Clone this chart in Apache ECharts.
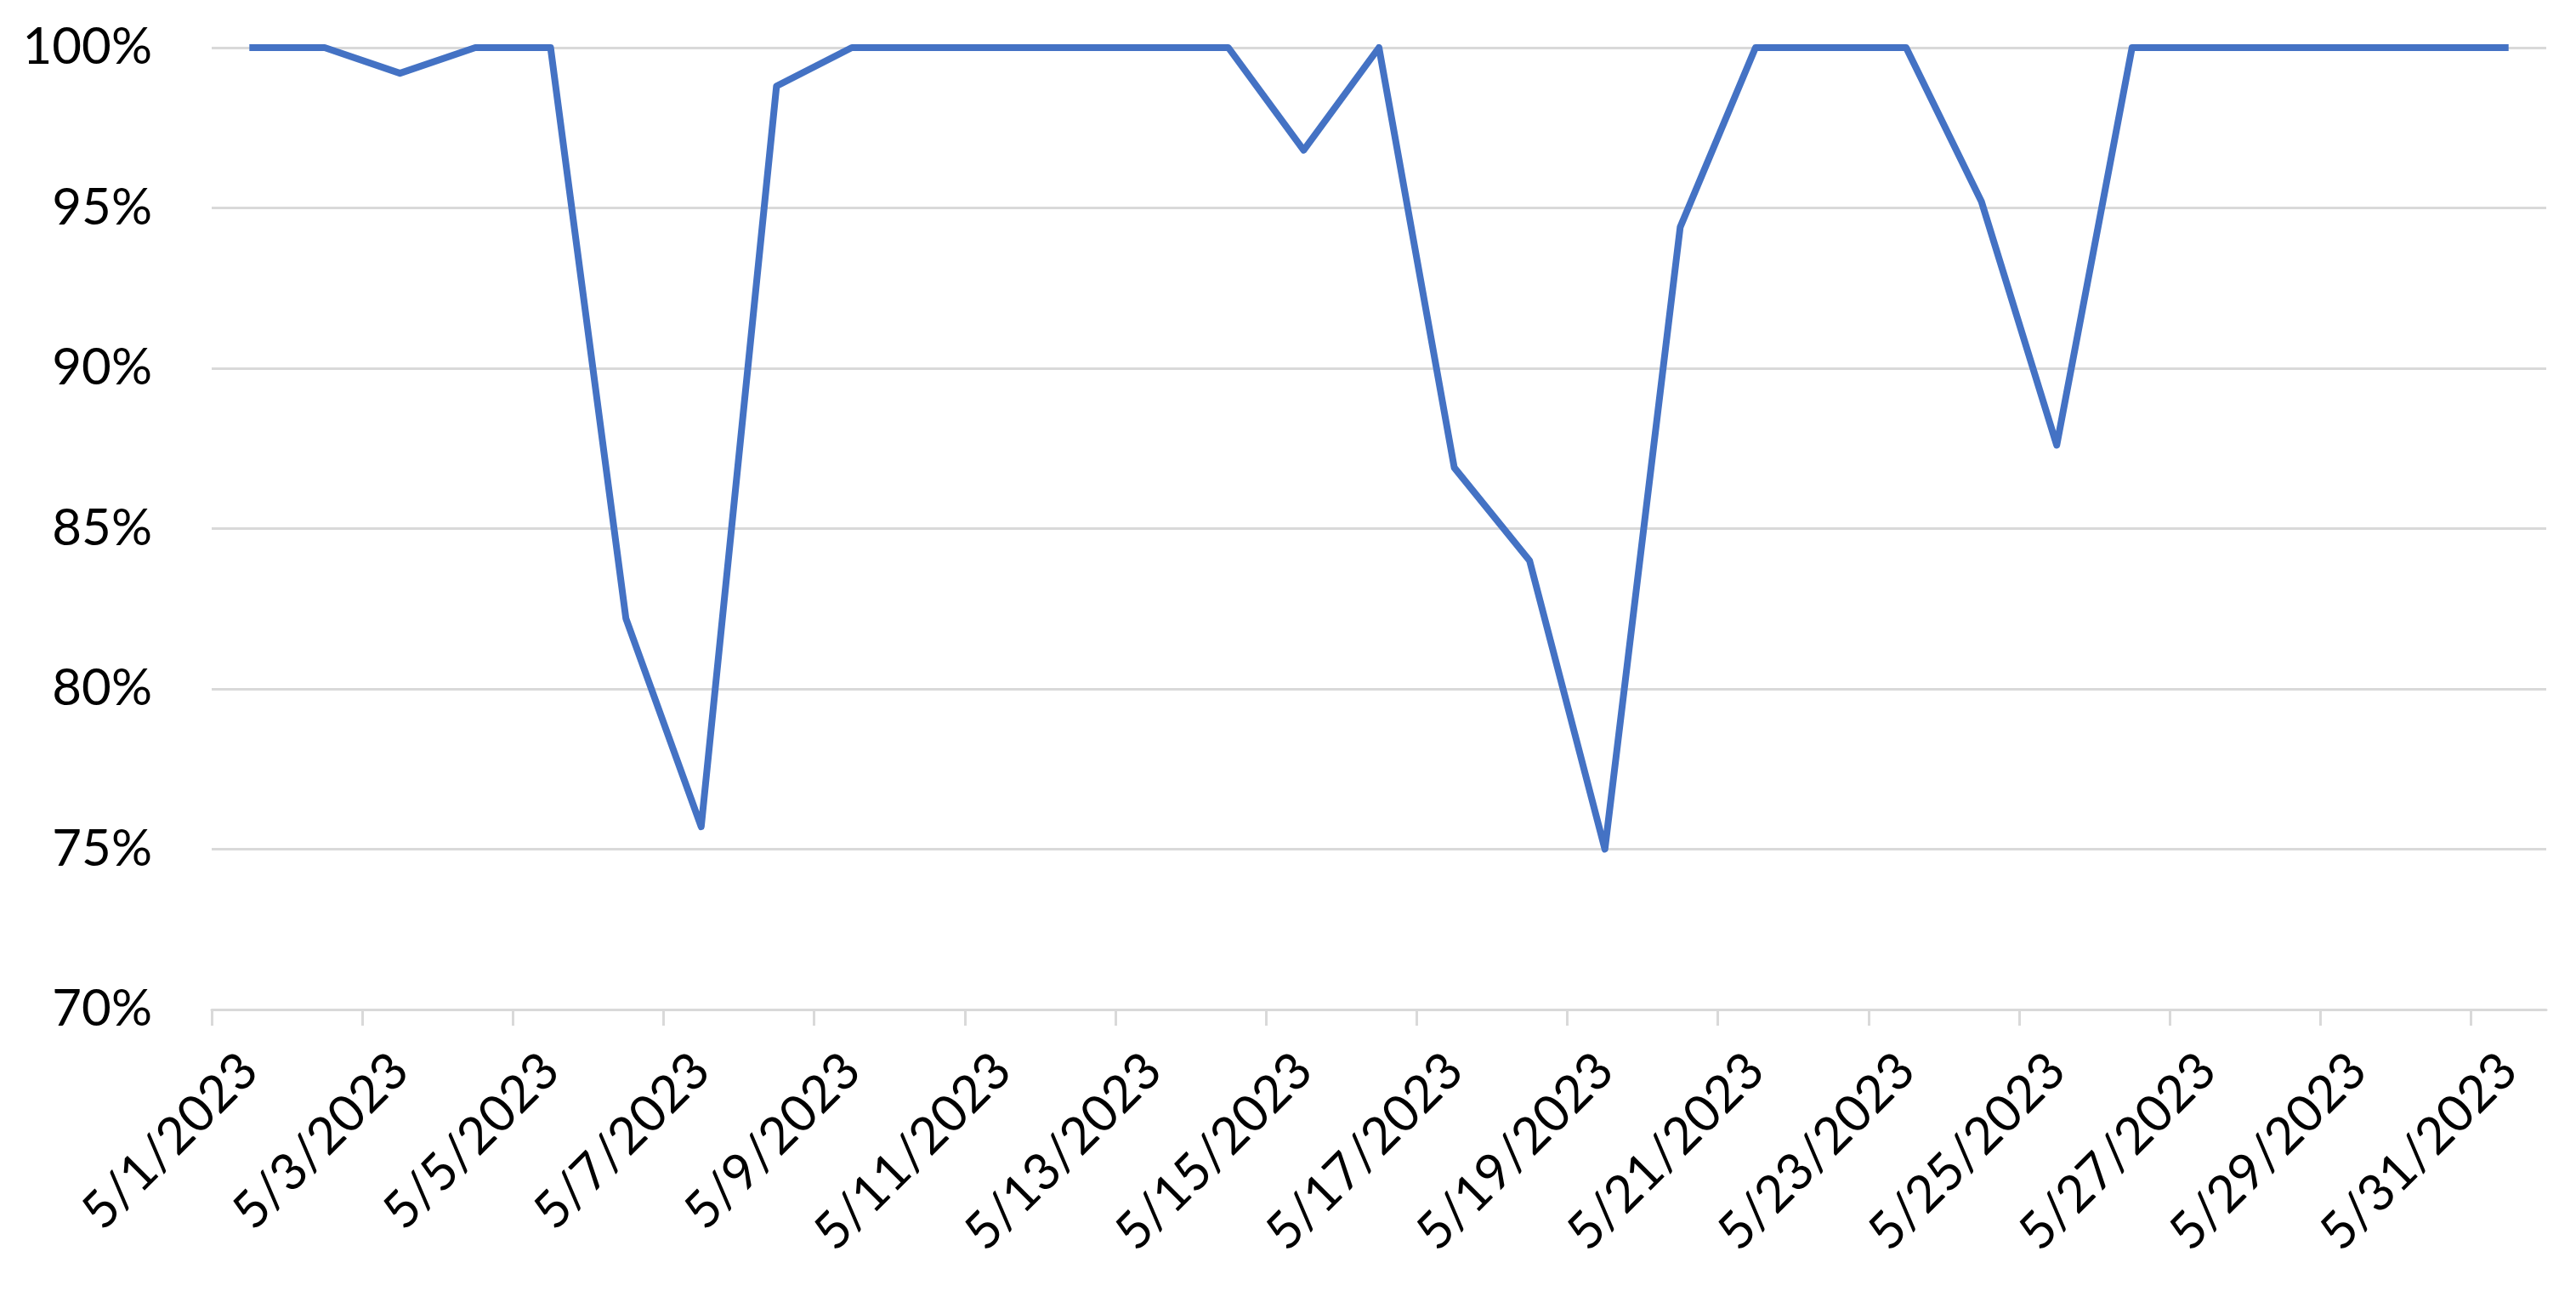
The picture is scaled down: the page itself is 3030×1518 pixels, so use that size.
<!DOCTYPE html>
<html>
<head>
<meta charset="utf-8">
<script src="https://cdn.jsdelivr.net/npm/echarts@6/dist/echarts.min.js"></script>
<style>
html,body{margin:0;padding:0;background:#fff;}
#chart{width:3030px;height:1518px;}
</style>
</head>
<body>
<div id="chart"></div>
<script>
const categories = [];
for (let d = 1; d <= 31; d++) categories.push('5/' + d + '/2023');
const values = [100,100,99.2,100,100,82.2,75.7,98.8,100,100,100,100,100,100,96.8,100,86.9,84.0,75.0,94.4,100,100,100,95.2,87.6,100,100,100,100,100,100];
const yMin = 70, yMax = 100, yStep = 5;
// tick marks sit on category boundaries, every second category
const tickPositions = categories.map((c, i) => i - 0.5).filter((v, i) => i % 2 === 0);

const chart = echarts.init(document.getElementById('chart'));
const fontFam = 'Lato';
const grid = {left: 249, right: 35, top: 56, bottom: 331, containLabel: false};
chart.setOption({
  animation: false,
  backgroundColor: '#fff',
  grid: grid,
  xAxis: [{
    type: 'category',
    data: categories,
    boundaryGap: true,
    axisLine: {show: false},
    axisTick: {show: false},
    axisLabel: {interval: 1, rotate: 45, margin: 62, color: '#000', fontSize: 60, fontFamily: fontFam},
    splitLine: {show: false}
  }, {
    type: 'value',
    position: 'bottom',
    min: -0.5, max: categories.length - 0.5,
    axisLine: {show: true, lineStyle: {color: '#d9d9d9', width: 3}},
    axisTick: {show: true, customValues: tickPositions, length: 19, lineStyle: {color: '#d9d9d9', width: 3}},
    axisLabel: {show: false},
    splitLine: {show: false}
  }],
  yAxis: {
    type: 'value',
    min: yMin, max: yMax, interval: yStep,
    axisLine: {show: false},
    axisTick: {show: false},
    axisLabel: {margin: 70, color: '#000', fontSize: 60, fontFamily: fontFam, formatter: v => v + '%'},
    splitLine: {show: true, lineStyle: {color: '#d9d9d9', width: 3}}
  },
  series: [{
    type: 'line',
    xAxisIndex: 0,
    data: values,
    symbol: 'none',
    lineStyle: {color: '#4472c4', width: 8, join: 'round'},
    itemStyle: {color: '#4472c4'}
  }]
});
</script>
</body>
</html>
